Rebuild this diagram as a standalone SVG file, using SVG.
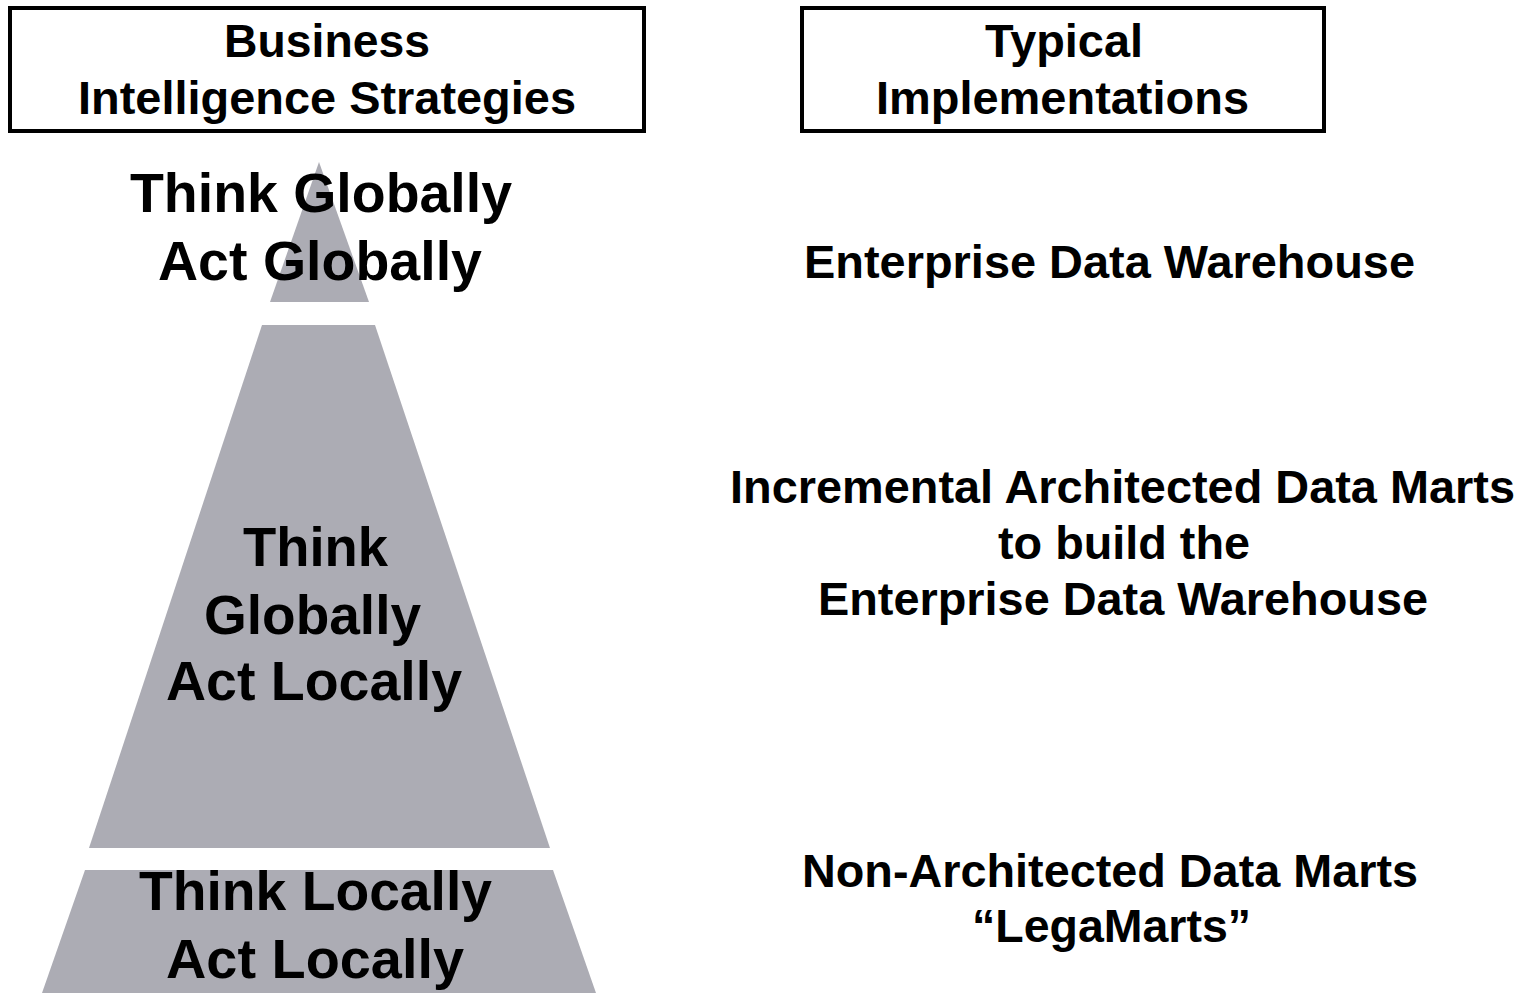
<svg xmlns="http://www.w3.org/2000/svg" width="1525" height="993" viewBox="0 0 1525 993">
<style>
.box{fill:#fff;stroke:#000;stroke-width:4}
.seg{fill:#acacb4}
text{font-family:"Liberation Sans",Arial,sans-serif;font-weight:bold;fill:#000}
.h{font-size:47px}
.p{font-size:56px}
.r{font-size:47px}
</style>
<rect width="1525" height="993" fill="#fff"/>
<g id="header-strategies">
<rect class="box" x="10" y="8" width="634" height="123"/>
<text class="h" x="224" y="57" textLength="206" lengthAdjust="spacingAndGlyphs">Business</text>
<text class="h" x="78" y="114" textLength="498" lengthAdjust="spacingAndGlyphs">Intelligence Strategies</text>
</g>
<g id="header-implementations">
<rect class="box" x="802" y="8" width="522" height="123"/>
<text class="h" x="985" y="57" textLength="158" lengthAdjust="spacingAndGlyphs">Typical</text>
<text class="h" x="876" y="114" textLength="373" lengthAdjust="spacingAndGlyphs">Implementations</text>
</g>
<g id="tier-top">
<polygon class="seg" points="319,162 369,302 270,302"/>
<text class="p" x="130" y="212" textLength="382" lengthAdjust="spacingAndGlyphs">Think Globally</text>
<text class="p" x="158" y="280" textLength="324" lengthAdjust="spacingAndGlyphs">Act Globally</text>
</g>
<g id="tier-middle">
<polygon class="seg" points="262,325 375,325 550,848 89,848"/>
<text class="p" x="243" y="566" textLength="145" lengthAdjust="spacingAndGlyphs">Think</text>
<text class="p" x="204" y="634" textLength="217" lengthAdjust="spacingAndGlyphs">Globally</text>
<text class="p" x="166" y="700" textLength="296" lengthAdjust="spacingAndGlyphs">Act Locally</text>
</g>
<g id="tier-bottom">
<polygon class="seg" points="85,870 553,870 596,993 42,993"/>
<text class="p" x="139" y="910" textLength="353" lengthAdjust="spacingAndGlyphs">Think Locally</text>
<text class="p" x="166" y="978" textLength="298" lengthAdjust="spacingAndGlyphs">Act Locally</text>
</g>
<g id="impl-edw">
<text class="r" x="804" y="278" textLength="611" lengthAdjust="spacingAndGlyphs">Enterprise Data Warehouse</text>
</g>
<g id="impl-incremental">
<text class="r" x="730" y="503" textLength="785" lengthAdjust="spacingAndGlyphs">Incremental Architected Data Marts</text>
<text class="r" x="998" y="559" textLength="252" lengthAdjust="spacingAndGlyphs">to build the</text>
<text class="r" x="818" y="615" textLength="610" lengthAdjust="spacingAndGlyphs">Enterprise Data Warehouse</text>
</g>
<g id="impl-nonarchitected">
<text class="r" x="802" y="887" textLength="616" lengthAdjust="spacingAndGlyphs">Non-Architected Data Marts</text>
<text class="r" x="972" y="942" textLength="279" lengthAdjust="spacingAndGlyphs">“LegaMarts”</text>
</g>
<g id="connectors"/>
</svg>
